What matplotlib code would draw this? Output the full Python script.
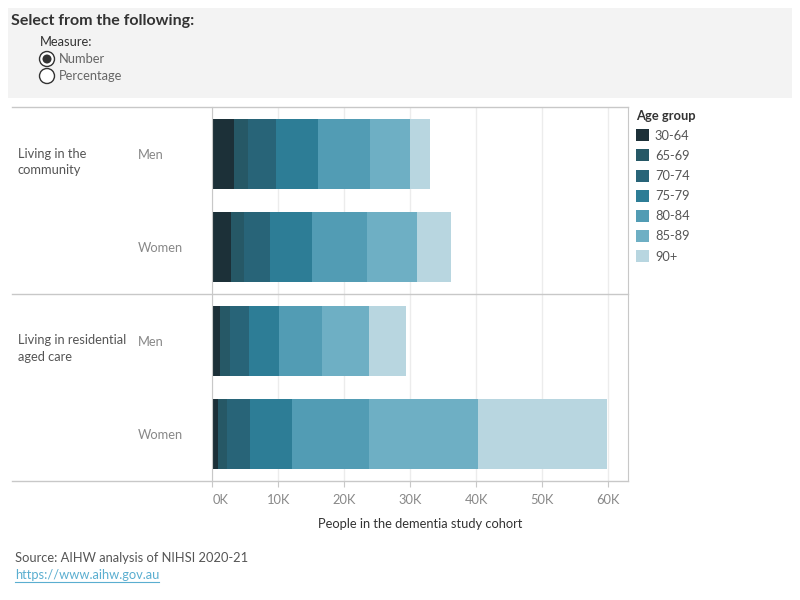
import matplotlib.pyplot as plt
import numpy as np
from matplotlib.patches import Rectangle, Ellipse
from matplotlib.lines import Line2D
from matplotlib.transforms import ScaledTranslation

plt.rcParams['font.family'] = ['Lato', 'DejaVu Sans']

# data
age_groups = ['30-64', '65-69', '70-74', '75-79', '80-84', '85-89', '90+']
colors = ['#1c3038', '#265866', '#286478', '#2d7d96', '#529cb4', '#6eafc4', '#b8d6e0']
settings = ['Living in the\ncommunity', 'Living in residential\naged care']
sexes = ['Men', 'Women', 'Men', 'Women']
values = {
    '30-64': [3300, 2830, 1170, 860],
    '65-69': [2100, 1970, 1510, 1370],
    '70-74': [4250, 3940, 2880, 3480],
    '75-79': [6350, 6360, 4540, 6360],
    '80-84': [7900, 8330, 6520, 11700],
    '85-89': [6050, 7580, 7120, 16500],
    '90+': [3050, 5150, 5600, 19500],
}
xticks = [0, 10000, 20000, 30000, 40000, 50000, 60000]
xlabels = ['0K', '10K', '20K', '30K', '40K', '50K', '60K']

W, H = 800, 600
FS = 9.3
fig = plt.figure(figsize=(8, 6), dpi=100)

def fx(x):
    return x / W

def fy(y):
    return 1 - y / H

# selector panel
fig.add_artist(Rectangle((fx(8), fy(98)), fx(784), 90 / H, transform=fig.transFigure,
                         facecolor='#f3f3f3', edgecolor='none', zorder=0))
fig.text(fx(11), fy(21), 'Select from the following:', fontsize=11.5, fontweight='bold',
         color='#333333', va='center')
fig.text(fx(40), fy(42), 'Measure:', fontsize=FS, color='#333333', va='center')
for i, lab in enumerate(['Number', 'Percentage']):
    cy = 59 + 17 * i
    fig.add_artist(Ellipse((fx(47), fy(cy)), 15 / W, 15 / H, transform=fig.transFigure,
                           facecolor='white', edgecolor='#333333', lw=1))
    if i == 0:
        fig.add_artist(Ellipse((fx(47), fy(cy)), 9 / W, 9 / H, transform=fig.transFigure,
                               facecolor='#333333', edgecolor='none'))
    fig.text(fx(59), fy(cy), lab, fontsize=FS, color='#666666', va='center')

# chart
ax = fig.add_axes([fx(212.3), fy(481), (627.5 - 212.3) / W, (481 - 107) / H])
y = np.arange(len(sexes))
left = np.zeros(len(sexes))
for ag, c in zip(age_groups, colors):
    v = np.array(values[ag])
    ax.barh(y, v, left=left, height=0.75, color=c, label=ag, zorder=2)
    left += v

ax.set_ylim(3.5, -0.5)
ax.set_xlim(0, 62900)
ax.set_yticks([])
ax.set_xticks(xticks)
ax.set_xticklabels(xlabels)
ax.tick_params(axis='x', colors='#c8c8c8', labelcolor='#888888', labelsize=FS,
               length=4, pad=5)
# first label sits a little right of its tick, as in the original
lab0 = ax.get_xticklabels()[0]
lab0.set_transform(lab0.get_transform() + ScaledTranslation(8 / 100, 0, fig.dpi_scale_trans))
ax.grid(axis='x', color='#ececec', lw=1, zorder=0)
for s in ['top', 'bottom']:
    ax.spines[s].set_visible(False)
for s in ['left', 'right']:
    ax.spines[s].set_color('#c8c8c8')
ax.set_xlabel('People in the dementia study cohort', fontsize=FS, color='#333333',
              labelpad=9)

# horizontal row lines spanning the label area
for yy in [107, 294, 481]:
    fig.add_artist(Line2D([fx(12), fx(627.5)], [fy(yy), fy(yy)], transform=fig.transFigure,
                          color='#c8c8c8', lw=1))

# row labels
for i, s in enumerate(settings):
    fig.text(fx(18), fy(162 + 186.5 * i), s, fontsize=FS, color='#555555', va='center',
             linespacing=1.45)
for i, s in enumerate(sexes):
    fig.text(fx(138), fy(154.5 + 93.5 * i), s, fontsize=FS, color='#888888', va='center')

# legend
leg = ax.legend(title='Age group', loc='upper left', bbox_to_anchor=(fx(633), fy(107)),
                bbox_transform=fig.transFigure, frameon=False, fontsize=FS,
                title_fontsize=FS, handlelength=1.05, handleheight=1.05,
                handletextpad=0.45, labelspacing=0.6, alignment='left', borderaxespad=0,
                borderpad=0.2)
for t in leg.get_texts():
    t.set_color('#555555')
leg.get_title().set_color('#333333')
leg.get_title().set_fontweight('bold')

# source
fig.text(fx(15), fy(558), 'Source: AIHW analysis of NIHSI 2020-21', fontsize=FS,
         color='#555555', va='center')
link = fig.text(fx(15), fy(575), 'https://www.aihw.gov.au', fontsize=FS, color='#5aaed0',
                va='center')
fig.canvas.draw()
bb = link.get_window_extent()
fig.add_artist(Line2D([bb.x0 / W, bb.x1 / W], [fy(582), fy(582)], transform=fig.transFigure,
                      color='#5aaed0', lw=0.8))

fig.savefig('out.png', dpi=100)
